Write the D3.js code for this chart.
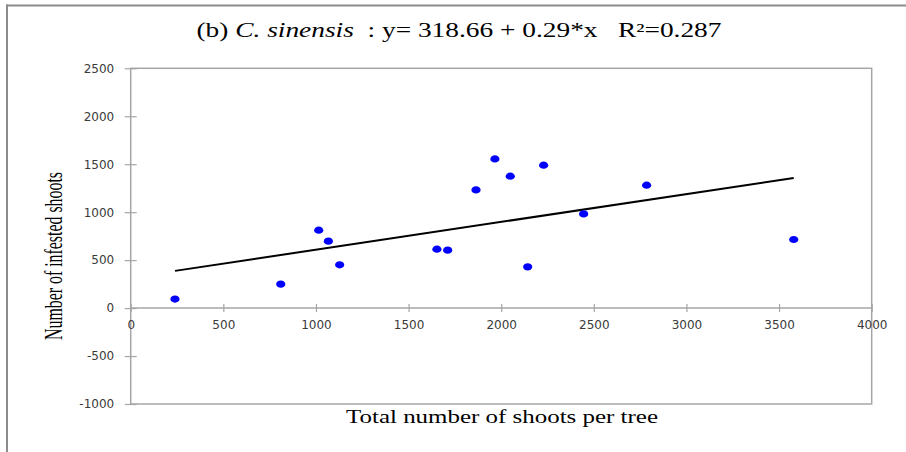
<!DOCTYPE html>
<html>
<head>
<meta charset="utf-8">
<script src="https://cdn.jsdelivr.net/npm/d3@7/dist/d3.min.js"></script>
<style>
  html, body { margin: 0; padding: 0; background: #fff; }
  svg { display: block; }
</style>
</head>
<body>
<svg id="chart" width="906" height="452"></svg>
<script>
// ---- data ----
const shootsTotal = [239, 810, 1015, 1067, 1128, 1653, 1711, 1864, 1966, 2049, 2143, 2229, 2445, 2785, 3579];
const shootsInfested = [94, 250, 812, 698, 451, 614, 604, 1232, 1555, 1375, 430, 1490, 982, 1281, 715];
const xTicks = [0, 500, 1000, 1500, 2000, 2500, 3000, 3500, 4000];
const yTicks = [-1000, -500, 0, 500, 1000, 1500, 2000, 2500];
const intercept = 318.66;
const slope = 0.29;
const titleText = { pre: "(b) ", species: "C. sinensis", post: "  : y= 318.66 + 0.29*x   R\u00B2=0.287" };
const xLabel = "Total number of shoots per tree";
const yLabel = "Number of infested shoots";

// ---- layout ----
const svg = d3.select("#chart");
const L = 130.7, R = 871.7, T = 68.3, B = 404;
const x = d3.scaleLinear().domain([0, 4000]).range([L, R]);
const y = d3.scaleLinear().domain([-1000, 2500]).range([B, T]);
const axisColor = "#a6a6a6";
const labelColor = "#3a3a3a";
const fmt = d => String(d);

// outer frame
svg.append("line").attr("x1", 6).attr("x2", 906).attr("y1", 5.5).attr("y2", 5.5)
  .attr("stroke", "#8c8c8c").attr("stroke-width", 2);
svg.append("line").attr("x1", 7).attr("x2", 7).attr("y1", 4.5).attr("y2", 452)
  .attr("stroke", "#8c8c8c").attr("stroke-width", 2);

// plot box
svg.append("rect").attr("x", L).attr("y", T).attr("width", R - L).attr("height", B - T)
  .attr("fill", "none").attr("stroke", axisColor).attr("stroke-width", 1.5);

// x axis at y=0
const y0 = y(0);
svg.append("line").attr("x1", L).attr("x2", R).attr("y1", y0).attr("y2", y0)
  .attr("stroke", axisColor).attr("stroke-width", 1.5);
const gx = svg.append("g").attr("transform", `translate(0,${y0 - 4})`)
  .call(d3.axisBottom(x).tickValues(xTicks).tickSize(8).tickPadding(8.3).tickFormat(fmt));
gx.select(".domain").remove();
gx.selectAll(".tick line").attr("stroke", axisColor).attr("stroke-width", 1.2);
gx.selectAll(".tick text").attr("fill", labelColor)
  .style("font-family", "'DejaVu Sans', Verdana, sans-serif").style("font-size", "12px");

// y axis
const gy = svg.append("g").attr("transform", `translate(${L + 6},0)`)
  .call(d3.axisLeft(y).tickValues(yTicks).tickSize(12).tickPadding(10.5).tickFormat(fmt));
gy.select(".domain").remove();
gy.selectAll(".tick line").attr("stroke", axisColor).attr("stroke-width", 1.2);
gy.selectAll(".tick text").attr("fill", labelColor)
  .style("font-family", "'DejaVu Sans', Verdana, sans-serif").style("font-size", "12px");

// trend line
const xMin = d3.min(shootsTotal), xMax = d3.max(shootsTotal);
const line = d3.line().x(d => x(d[0])).y(d => y(d[1]));
svg.append("path").datum([[xMin, intercept + slope * xMin], [xMax, intercept + slope * xMax]])
  .attr("d", line).attr("stroke", "#000").attr("stroke-width", 2).attr("fill", "none");

// points
svg.append("g").selectAll("ellipse").data(shootsTotal.map((v, i) => [v, shootsInfested[i]]))
  .join("ellipse")
  .attr("cx", d => x(d[0])).attr("cy", d => y(d[1]))
  .attr("rx", 4.6).attr("ry", 3.6).attr("fill", "#0000ff");

// title
const title = svg.append("text").attr("x", 459).attr("y", 37).attr("text-anchor", "middle")
  .style("font-family", "'Liberation Serif', 'Times New Roman', serif").style("font-size", "20px")
  .style("white-space", "pre")
  .attr("fill", "#000");
title.append("tspan").text(titleText.pre);
title.append("tspan").attr("font-style", "italic").text(titleText.species);
title.append("tspan").text(titleText.post);
title.attr("textLength", 525).attr("lengthAdjust", "spacingAndGlyphs");

// x label
svg.append("text").attr("x", 502).attr("y", 423).attr("text-anchor", "middle")
  .style("font-family", "'Liberation Serif', 'Times New Roman', serif").style("font-size", "19px")
  .attr("textLength", 312).attr("lengthAdjust", "spacingAndGlyphs")
  .attr("fill", "#000").text(xLabel);

// y label
svg.append("text").attr("transform", "translate(62,256) rotate(-90)").attr("text-anchor", "middle")
  .style("font-family", "'Liberation Serif', 'Times New Roman', serif").style("font-size", "25px")
  .attr("textLength", 168).attr("lengthAdjust", "spacingAndGlyphs")
  .attr("fill", "#000").text(yLabel);
</script>
</body>
</html>
